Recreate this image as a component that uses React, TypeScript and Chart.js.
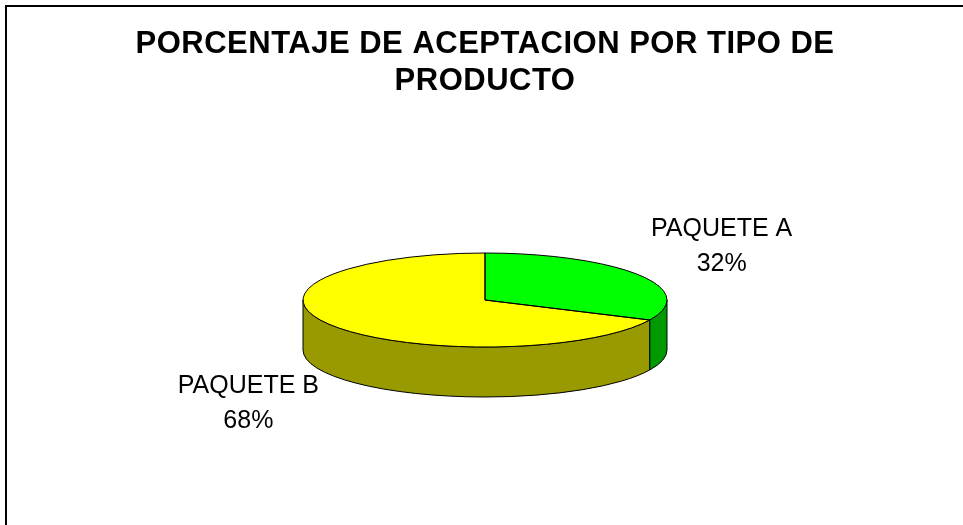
import React, { useEffect, useRef } from 'react';
import { Chart, registerables } from 'chart.js';

Chart.register(...registerables);

const categories = ['PAQUETE A', 'PAQUETE B'];
const values = [32, 68];
const topColors = ['#00FF00', '#FFFF00'];
const sideColors = ['#009900', '#999900'];
const titleLines = ['PORCENTAJE DE ACEPTACION POR TIPO DE', 'PRODUCTO'];

const TILT = 47 / 182;
const DEPTH = 50;
const LABEL_RX = 1.54;
const LABEL_RY = 0.55;
const FONT = "'Liberation Sans', Arial, sans-serif";

function frontRanges(s: number, e: number): [number, number][] {
  const out: [number, number][] = [];
  for (let k = -2; k <= 2; k++) {
    const lo = k * 2 * Math.PI;
    const hi = lo + Math.PI;
    const a = Math.max(s, lo);
    const b = Math.min(e, hi);
    if (b > a) out.push([a, b]);
  }
  return out;
}

const pie3d = {
  id: 'pie3d',
  beforeDraw(chart: any) {
    chart.ctx.letterSpacing = '0.5px';
  },
  beforeDatasetsDraw(chart: any) {
    const ctx = chart.ctx;
    ctx.letterSpacing = '0px';
    const arcs = chart.getDatasetMeta(0).data;
    if (!arcs.length) return;
    const { x: cx, y: cy, outerRadius: r } = arcs[0].getProps(['x', 'y', 'outerRadius'], true);
    const ry = r * TILT;
    ctx.save();
    ctx.lineWidth = 1;
    ctx.strokeStyle = '#000';
    arcs.forEach((arc: any, i: number) => {
      const { startAngle, endAngle } = arc.getProps(['startAngle', 'endAngle'], true);
      frontRanges(startAngle, endAngle).forEach(([a1, a2]) => {
        ctx.beginPath();
        ctx.ellipse(cx, cy, r, ry, 0, a1, a2, false);
        ctx.lineTo(cx + r * Math.cos(a2), cy + DEPTH + ry * Math.sin(a2));
        ctx.ellipse(cx, cy + DEPTH, r, ry, 0, a2, a1, true);
        ctx.closePath();
        ctx.fillStyle = sideColors[i];
        ctx.fill();
        ctx.stroke();
      });
    });
    ctx.restore();
    ctx.save();
    ctx.translate(0, cy);
    ctx.scale(1, TILT);
    ctx.translate(0, -cy);
  },
  afterDatasetsDraw(chart: any) {
    const ctx = chart.ctx;
    ctx.restore();
    const arcs = chart.getDatasetMeta(0).data;
    if (!arcs.length) return;
    const { x: cx, y: cy, outerRadius: r } = arcs[0].getProps(['x', 'y', 'outerRadius'], true);
    const ry = r * TILT;
    const total = values.reduce((a, b) => a + b, 0);
    ctx.save();
    ctx.lineWidth = 1;
    ctx.strokeStyle = '#000';
    arcs.forEach((arc: any) => {
      const { startAngle: s, endAngle: e } = arc.getProps(['startAngle', 'endAngle'], true);
      ctx.beginPath();
      ctx.moveTo(cx, cy);
      ctx.lineTo(cx + r * Math.cos(s), cy + ry * Math.sin(s));
      ctx.ellipse(cx, cy, r, ry, 0, s, e, false);
      ctx.closePath();
      ctx.stroke();
    });
    ctx.fillStyle = '#000';
    ctx.font = `25px ${FONT}`;
    ctx.textAlign = 'center';
    ctx.textBaseline = 'middle';
    arcs.forEach((arc: any, i: number) => {
      const { startAngle: s, endAngle: e } = arc.getProps(['startAngle', 'endAngle'], true);
      const mid = (s + e) / 2;
      const sn = Math.sin(mid);
      const lx = cx + r * LABEL_RX * Math.cos(mid);
      const ly = cy + r * LABEL_RY * sn + (sn > 0 ? DEPTH : 0);
      const pct = Math.round((values[i] / total) * 100) + '%';
      ctx.fillText(categories[i], lx, ly - 17.3);
      ctx.fillText(pct, lx, ly + 17.3);
    });
    ctx.restore();
  },
};

export default function App() {
  const ref = useRef<HTMLCanvasElement | null>(null);
  useEffect(() => {
    if (!ref.current) return;
    const chart = new Chart(ref.current, {
      type: 'pie',
      data: {
        labels: categories,
        datasets: [
          {
            data: values,
            backgroundColor: topColors,
            borderWidth: 0,
            hoverOffset: 0,
            offset: 0,
            radius: 182,
          } as any,
        ],
      },
      options: {
        responsive: false,
        maintainAspectRatio: false,
        animation: false,
        events: [],
        layout: { padding: { left: 7, right: 0, top: 0, bottom: 26 } },
        plugins: {
          legend: { display: false },
          tooltip: { enabled: false },
          title: {
            display: true,
            text: titleLines,
            color: '#000',
            font: { family: FONT, size: 31, weight: 'bold', lineHeight: 37 / 31 },
            padding: { top: 26, bottom: 1 },
          },
        },
      } as any,
      plugins: [pie3d],
    });
    return () => chart.destroy();
  }, []);
  return (
    <>
      <div
        style={{
          position: 'fixed',
          left: 5,
          top: 5,
          width: 1000,
          height: 1000,
          border: '2px solid #000',
          pointerEvents: 'none',
        }}
      />
      <canvas
        ref={ref}
        width={963}
        height={525}
        style={{ position: 'fixed', left: 0, top: 0, width: 963, height: 525 }}
      />
    </>
  );
}
